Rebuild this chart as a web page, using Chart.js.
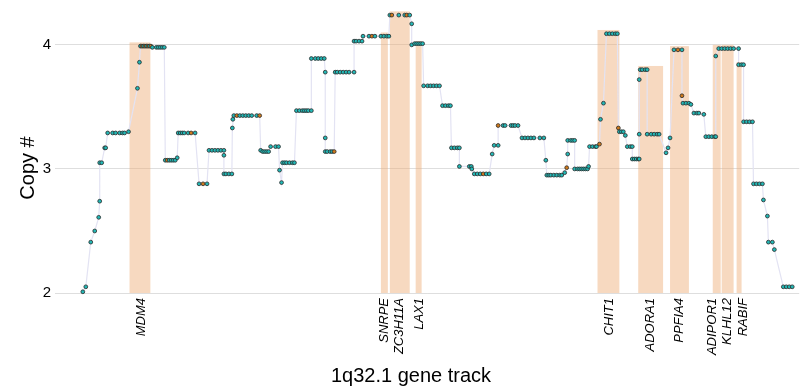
<!DOCTYPE html>
<html>
<head>
<meta charset="utf-8">
<script src="https://cdn.jsdelivr.net/npm/chart.js@4"></script>
<style>
  html, body { margin: 0; padding: 0; background: #fff; }
  #wrap { width: 804px; height: 387px; }
</style>
</head>
<body>
<div id="wrap"><canvas id="cnv" width="804" height="387"></canvas></div>
<script>
// probe positions along the track (kb from track start) and the copy number called there
const positions = [28,31,36,40,44,45,45,47,50,51,53,58,61,65,68,70,74,83,85,86,87.5,89,90.5,92,93.5,95,96.5,98,102,104,106,108,110,
  111,113,115,117,119,121,123,124,126,128,130,134,137,141,145,149,153,155,158,161,164,167,170,170,170,172,175,178,178.5,179,
  180,183,186,189,192,195,198,203,206,207,209,211,213,215,217,222,225,226,228,229,231,233,236,239,241,
  243,246,249,251,253,255,258,258,262,265,268,271,272,272,272,274,277,279,281,282,284,287,290,293,296,301,
  301,303,306,309,310,316,319,322,328,331,334,336,337,339,346,352,354,357,359,359,362,364,366,368,370,
  371,375,378,381,384,387,390,393,396,398,399,402,405,407,407,417,419,419.5,422,425,428,431,434,437,
  440,442,446,446,451,453,459,461,463,466,470,473,476,479,482,488,492,494,495,497,499,502,505,508,510,513,
  515,516,516,519,521,523,523,526,528,530,532,534,536,537,538,541,544,545,548,549,552,
  555,558,561,564,566,567,568,570,572,574,576,579,581,581,583,585,587,588,588,588,589,591,594,596,
  596,600,603,606,608,615,617,619,623,627,631,631,632,635,638,640,643,646,648,653,655,658,661,664,665,
  665,668,671,674,677,680,683,688,688,691,693,693,696,699,702,703,706,709,712,713,717,718,722,724,733,736,739,742];

const copyNumber = [2.01,2.05,2.41,2.50,2.61,2.74,3.05,3.05,3.17,3.17,3.29,3.29,3.29,3.29,3.29,3.29,3.30,3.65,3.86,3.99,3.99,3.99,3.99,3.99,3.99,3.99,3.99,3.98,3.98,3.98,3.98,3.98,3.98,
  3.07,3.07,3.07,3.07,3.07,3.07,3.09,3.29,3.29,3.29,3.29,3.29,3.29,3.29,2.88,2.88,2.88,3.15,3.15,3.15,3.15,3.15,3.15,3.11,2.96,2.96,2.96,2.96,3.33,3.40,
  3.43,3.43,3.43,3.43,3.43,3.43,3.43,3.43,3.43,3.15,3.14,3.14,3.14,3.14,3.18,3.18,3.18,2.99,2.89,3.05,3.05,3.05,3.05,3.05,3.05,
  3.47,3.47,3.47,3.47,3.47,3.47,3.47,3.89,3.89,3.89,3.89,3.89,3.78,3.25,3.14,3.14,3.14,3.14,3.14,3.78,3.78,3.78,3.78,3.78,3.78,3.78,
  4.03,4.03,4.03,4.03,4.07,4.07,4.07,4.07,4.07,4.07,4.07,4.07,4.24,4.24,4.24,4.24,4.24,4.24,4.17,4.00,4.01,4.01,4.01,4.01,4.01,
  3.67,3.67,3.67,3.67,3.67,3.67,3.51,3.51,3.51,3.51,3.17,3.17,3.17,3.17,3.02,3.02,3.02,3.00,2.96,2.96,2.96,2.96,2.96,2.96,
  3.12,3.19,3.19,3.35,3.35,3.35,3.35,3.35,3.35,3.35,3.25,3.25,3.25,3.25,3.25,3.25,3.25,3.07,2.95,2.95,2.95,2.95,2.95,2.95,2.95,2.97,
  3.01,3.12,3.23,3.23,3.23,3.23,3.00,3.00,3.00,3.00,3.00,3.00,3.00,3.02,3.18,3.18,3.18,3.18,3.20,3.40,3.53,
  4.09,4.09,4.09,4.09,4.09,3.33,3.30,3.30,3.30,3.27,3.18,3.18,3.18,3.08,3.08,3.08,3.08,3.08,3.28,3.72,3.80,3.80,3.80,3.80,
  3.28,3.28,3.28,3.28,3.28,3.13,3.17,3.25,3.96,3.96,3.96,3.59,3.53,3.53,3.53,3.52,3.45,3.45,3.45,3.44,3.26,3.26,3.26,3.26,3.26,
  3.91,3.97,3.97,3.97,3.97,3.97,3.97,3.97,3.84,3.84,3.84,3.38,3.38,3.38,3.38,2.88,2.88,2.88,2.88,2.75,2.62,2.41,2.41,2.35,2.05,2.05,2.05,2.05];

// probes drawn with the orange fill: [position, copy number]
const orangePoints = [[87.5,3.99],[90.5,3.99],[93.5,3.99],[96.5,3.99],[113,3.07],[137,3.29],[149,2.88],[183,3.43],[206,3.43],
  [281,3.14],[319,4.07],[339,4.24],[354,4.24],[431,2.96],[446,3.35],[515,3.01],[548,3.20],[567,3.33],[627,3.96],[631,3.59]];

// genes on the track
const geneNames  = ["MDM4","SNRPE","ZC3H11A","LAX1","CHIT1","ADORA1","PPFIA4","ADIPOR1","KLHL12","RABIF"];
const geneStart  = [75, 328, 337, 363, 546, 587, 619, 662, 671, 686];
const geneEnd    = [96, 335, 357, 369, 568, 612, 638, 670, 683, 691];
const geneTop    = [4.02, 4.10, 4.27, 4.03, 4.12, 3.83, 3.99, 4.00, 4.00, 3.86];
const geneLabelAt = [86.5, 332, 347, 367, 558, 599, 628, 662, 677, 692.5];

const yTicks = [2, 3, 4];

const points = positions.map((p, i) => ({ x: p, y: copyNumber[i] }));
const isOrange = points.map(pt => orangePoints.some(o => o[0] === pt.x && o[1] === pt.y));

const geneBands = {
    id: "geneBands",
    beforeDatasetsDraw(chart) {
        const { ctx, scales: { x, y } } = chart;
        ctx.save();
        ctx.fillStyle = "rgba(238,170,115,0.45)";
        geneStart.forEach((s, i) => {
            const x0 = x.getPixelForValue(s);
            const x1 = x.getPixelForValue(geneEnd[i]);
            const y0 = y.getPixelForValue(geneTop[i]);
            const y1 = y.getPixelForValue(y.min);
            ctx.fillRect(x0, y0, x1 - x0, y1 - y0);
        });
        ctx.restore();
    }
};

// axis titles, placed by hand like the original
const axisTitles = {
    id: "axisTitles",
    afterDraw(chart) {
        const ctx = chart.ctx;
        ctx.save();
        ctx.fillStyle = "#000";
        ctx.font = "20px 'Liberation Sans', Arial, sans-serif";
        ctx.textAlign = "center";
        ctx.textBaseline = "middle";
        ctx.fillText("1q32.1 gene track", 411, 376);
        ctx.translate(28, 168);
        ctx.rotate(-Math.PI / 2);
        ctx.fillText("Copy #", 0, 0);
        ctx.restore();
    }
};

new Chart(document.getElementById("cnv"), {
    type: "line",
    data: {
        datasets: [{
            data: points,
            borderColor: "#e3e3f3",
            borderWidth: 1.2,
            pointRadius: 1.9,
            pointBorderWidth: 0.8,
            pointBorderColor: "#2a2a2a",
            pointBackgroundColor: isOrange.map(o => o ? "#cf7a1c" : "#22b8b6"),
            tension: 0,
            clip: false
        }]
    },
    options: {
        responsive: false,
        animation: false,
        layout: { padding: { top: 0, left: 0, bottom: 0, right: -5 } },
        plugins: { legend: { display: false }, tooltip: { enabled: false } },
        scales: {
            x: {
                type: "linear",
                min: 0,
                max: 749,
                afterBuildTicks: s => { s.ticks = geneLabelAt.map(v => ({ value: v })); },
                afterFit: s => { s.height = 94; s.paddingLeft = 0; s.paddingRight = 0; },
                grid: { display: false, drawTicks: false },
                border: { display: false },
                ticks: {
                    autoSkip: false,
                    minRotation: 90,
                    maxRotation: 90,
                    padding: 5,
                    color: "#000",
                    font: { family: "'Liberation Sans', Arial, sans-serif", size: 13, style: "italic" },
                    callback: (v, i) => geneNames[i]
                }
            },
            y: {
                min: 2,
                max: 4.323,
                afterBuildTicks: s => { s.ticks = yTicks.map(v => ({ value: v })); },
                afterFit: s => { s.width = 55; s.paddingTop = 0; s.paddingBottom = 0; },
                grid: { color: "#dedede", lineWidth: 1, drawTicks: false },
                border: { display: false },
                ticks: {
                    padding: 4,
                    color: "#000",
                    font: { family: "'Liberation Sans', Arial, sans-serif", size: 15 }
                }
            }
        }
    },
    plugins: [geneBands, axisTitles]
});
</script>
</body>
</html>
